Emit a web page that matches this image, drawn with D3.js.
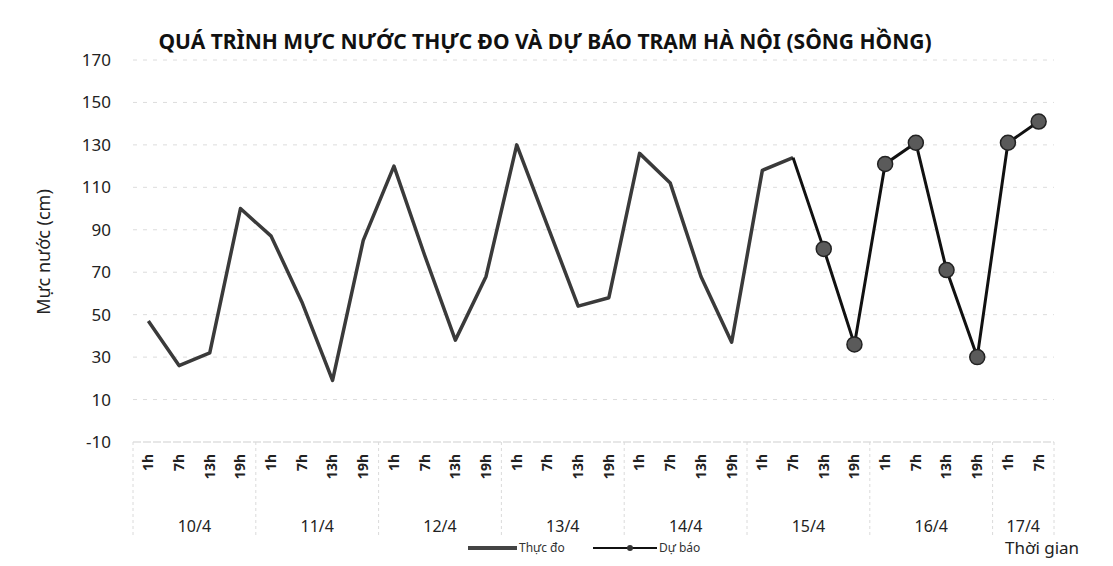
<!DOCTYPE html>
<html>
<head>
<meta charset="utf-8">
<script src="https://cdn.jsdelivr.net/npm/d3@7"></script>
<style>
  body { margin: 0; background: #fff; }
  svg { font-family: "Noto Sans", "Open Sans", sans-serif; }
</style>
</head>
<body>
<svg id="chart" width="1113" height="566"></svg>
<script>
// dates and hours on the two-level x axis
const days = ['10/4', '11/4', '12/4', '13/4', '14/4', '15/4', '16/4', '17/4'];
const hours = ['1h', '7h', '13h', '19h'];
const yTicks = [-10, 10, 30, 50, 70, 90, 110, 130, 150, 170];

// observed water level (cm), 10/4 1h .. 15/4 7h
const observed = [47, 26, 32, 100, 87, 56, 19, 85, 120, 78, 38, 68, 130, 92, 54, 58,
                  126, 112, 68, 37, 118, 124];
// forecast (cm), from 15/4 7h (joins the observed line) .. 17/4 7h
const forecast = [124, 81, 36, 121, 131, 71, 30, 131, 141];
const forecastStart = 21; // index of 15/4 7h

// category keys
const cats = [];
days.forEach(d => hours.forEach(h => {
  if (d === '17/4' && (h === '13h' || h === '19h')) return;
  cats.push({ key: d + ' ' + h, day: d, hour: h });
}));

const svg = d3.select('#chart');

const x = d3.scaleBand()
  .domain(cats.map(c => c.key))
  .range([133, 1054]);

const y = d3.scaleLinear()
  .domain([-10, 170])
  .range([442, 60]);

const cx = i => x(cats[i].key) + x.bandwidth() / 2;

// grid lines
svg.append('g')
  .selectAll('line')
  .data(yTicks)
  .enter()
  .append('line')
  .attr('x1', 133)
  .attr('x2', 1054)
  .attr('y1', d => y(d))
  .attr('y2', d => y(d))
  .attr('stroke', d => d === -10 ? '#cfcfcf' : '#dcdcdc')
  .attr('stroke-width', 1)
  .attr('stroke-dasharray', d => d === -10 ? '8,2' : '4,6');

// y tick labels
svg.append('g')
  .selectAll('text')
  .data(yTicks)
  .enter()
  .append('text')
  .attr('x', 111)
  .attr('y', d => y(d))
  .attr('dy', '0.35em')
  .attr('text-anchor', 'end')
  .style('font-size', '17px')
  .style('fill', '#222')
  .text(d => d);

// y axis title
svg.append('text')
  .attr('transform', 'translate(50,252) rotate(-90)')
  .attr('text-anchor', 'middle')
  .style('font-size', '18px')
  .style('fill', '#222')
  .text('Mực nước (cm)');

// hour labels (rotated)
svg.append('g')
  .selectAll('text')
  .data(cats)
  .enter()
  .append('text')
  .attr('transform', d => `translate(${x(d.key) + x.bandwidth() / 2},454) rotate(-90)`)
  .attr('dy', '0.35em')
  .attr('text-anchor', 'end')
  .style('font-size', '14px')
  .style('font-weight', 'bold')
  .style('fill', '#222')
  .text(d => d.hour);

// day group separators and labels
const dayGroups = days.map(d => {
  const keys = cats.filter(c => c.day === d).map(c => c.key);
  return { day: d, x0: x(keys[0]), x1: x(keys[keys.length - 1]) + x.bandwidth() };
});

const sepX = [dayGroups[0].x0].concat(dayGroups.map(g => g.x1));
svg.append('g')
  .selectAll('line')
  .data(sepX)
  .enter()
  .append('line')
  .attr('x1', d => d)
  .attr('x2', d => d)
  .attr('y1', 442)
  .attr('y2', 538)
  .attr('stroke', '#dadada')
  .attr('stroke-width', 1)
  .attr('stroke-dasharray', '3,3');

svg.append('g')
  .selectAll('text')
  .data(dayGroups)
  .enter()
  .append('text')
  .attr('x', d => (d.x0 + d.x1) / 2)
  .attr('y', 532)
  .attr('text-anchor', 'middle')
  .style('font-size', '16px')
  .style('fill', '#222')
  .text(d => d.day);

// lines
const line = d3.line()
  .x(d => cx(d.i))
  .y(d => y(d.v));

const obsData = observed.map((v, i) => ({ i, v }));
const fcData = forecast.map((v, k) => ({ i: forecastStart + k, v }));

svg.append('path')
  .datum(obsData)
  .attr('d', line)
  .attr('fill', 'none')
  .attr('stroke', '#3a3a3a')
  .attr('stroke-width', 3.5)
  .attr('stroke-linejoin', 'round');

svg.append('path')
  .datum(fcData)
  .attr('d', line)
  .attr('fill', 'none')
  .attr('stroke', '#111')
  .attr('stroke-width', 3);

svg.append('g')
  .selectAll('circle')
  .data(fcData.slice(1))
  .enter()
  .append('circle')
  .attr('cx', d => cx(d.i))
  .attr('cy', d => y(d.v))
  .attr('r', 7.5)
  .attr('fill', '#5a5a5a')
  .attr('stroke', '#222')
  .attr('stroke-width', 1.5);

// title
svg.append('text')
  .attr('x', 545)
  .attr('y', 49)
  .attr('text-anchor', 'middle')
  .style('font-size', '21px')
  .style('font-weight', 'bold')
  .style('fill', '#111')
  .text('QUÁ TRÌNH MỰC NƯỚC THỰC ĐO VÀ DỰ BÁO TRẠM HÀ NỘI (SÔNG HỒNG)');

// legend
const legend = svg.append('g').attr('transform', 'translate(0,548)');
legend.append('line')
  .attr('x1', 468).attr('x2', 517)
  .attr('y1', 0).attr('y2', 0)
  .attr('stroke', '#444').attr('stroke-width', 4);
legend.append('text')
  .attr('x', 519).attr('y', 0).attr('dy', '0.35em')
  .style('font-size', '12px').style('fill', '#333')
  .text('Thực đo');
legend.append('line')
  .attr('x1', 593).attr('x2', 657)
  .attr('y1', 0).attr('y2', 0)
  .attr('stroke', '#111').attr('stroke-width', 2);
legend.append('circle')
  .attr('cx', 630).attr('cy', 0).attr('r', 3)
  .attr('fill', '#333');
legend.append('text')
  .attr('x', 659).attr('y', 0).attr('dy', '0.35em')
  .style('font-size', '12px').style('fill', '#333')
  .text('Dự báo');

// x axis title
svg.append('text')
  .attr('x', 1005)
  .attr('y', 554)
  .style('font-size', '17px')
  .style('fill', '#222')
  .text('Thời gian');
</script>
</body>
</html>
